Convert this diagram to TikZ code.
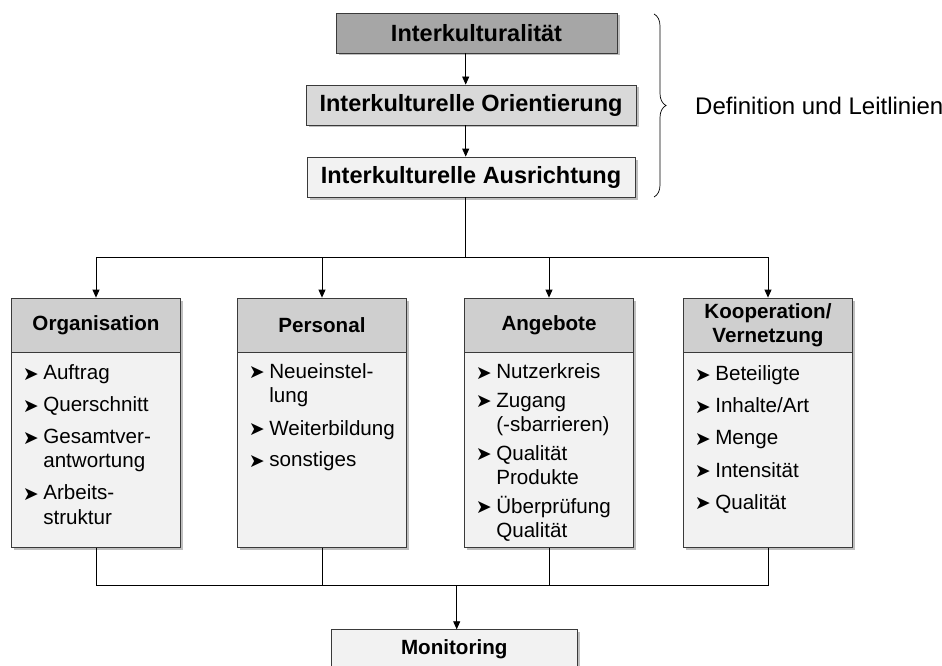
\documentclass[tikz,border=0pt]{standalone}
\usepackage{fontspec}
\setmainfont{Liberation Sans}
\newfontfamily\symfont{DejaVu Sans}
\usetikzlibrary{arrows.meta,shadows,decorations.pathreplacing,calc}

\definecolor{darkfill}{HTML}{A6A6A6}
\definecolor{midfill}{HTML}{D9D9D9}
\definecolor{headfill}{HTML}{CFCFCF}
\definecolor{lightfill}{HTML}{F2F2F2}
\definecolor{edgegray}{HTML}{3A3A3A}

% bullet and hanging indent for the lists
\newcommand{\bul}{\makebox[20.5pt][l]{\raisebox{-0.5pt}{\symfont\fontsize{19}{19}\selectfont ➤}}}
\newcommand{\cont}{\hspace*{20.5pt}}

\begin{document}
\begin{tikzpicture}[x=1pt,y=-1pt,
    box/.style={draw=edgegray, line width=0.8pt, inner sep=0pt,
        drop shadow={shadow xshift=2.5pt, shadow yshift=-2.5pt, opacity=0.25, fill=black}},
    topbox/.style={box, minimum height=40, font=\fontsize{23.5}{28}\selectfont\bfseries},
    colhead/.style={box, fill=headfill, minimum width=169, minimum height=54, align=center,
        font=\fontsize{20.6}{24.5}\selectfont\bfseries},
    colbody/.style={box, fill=lightfill, minimum width=169, minimum height=194.5, anchor=north},
    items/.style={inner sep=0pt, align=left, anchor=north west, font=\fontsize{20.6}{24.3}\selectfont},
    arr/.style={-{Triangle[length=8pt,width=7pt]}, line width=0.8pt},
    conn/.style={line width=0.8pt}]

    \useasboundingbox (0,0) rectangle (942,666);
    \clip (0,0) rectangle (942,666);

    % top chain
    \node[topbox, fill=darkfill, minimum width=281] (kultur) at (476.5,33) {Interkulturalität};
    \node[topbox, fill=midfill, minimum width=330] (orient) at (471,105) {Interkulturelle Orientierung};
    \node[topbox, fill=lightfill, minimum width=328] (ausr) at (471,177) {Interkulturelle Ausrichtung};

    \coordinate (trunk) at (465.7,257.3);
    \coordinate (mbus) at (456.7,585.7);

    \draw[arr] (kultur.south -| trunk) -- (orient.north -| trunk);
    \draw[arr] (orient.south -| trunk) -- (ausr.north -| trunk);

    % brace
    \draw[line width=0.7pt, decorate, decoration={brace, amplitude=12pt}] (654,14) -- (654,197);
    \node[anchor=west, inner sep=0pt, font=\fontsize{24}{29}\selectfont] (defn) at (695,106) {Definition und Leitlinien};

    % columns
    \node[colhead] (orgh) at (96,325) {Organisation};
    \node[colbody] (orgb) at (orgh.south) {};
    \node[items] (orgl) at ($(orgb.north west)+(11.5,12)$) {%
        \bul Auftrag\\[7.7pt]
        \bul Querschnitt\\[7.7pt]
        \bul Gesamtver-\\
        \cont antwortung\\[7.7pt]
        \bul Arbeits-\\
        \cont struktur};

    \node[colhead] (perh) at (322,325) {Personal};
    \node[colbody] (perb) at (perh.south) {};
    \node[items] (perl) at ($(perb.north west)+(11.5,10.5)$) {%
        \bul Neueinstel-\\
        \cont lung\\[8.5pt]
        \bul Weiterbildung\\[7.5pt]
        \bul sonstiges};

    \node[colhead] (angh) at (549,325) {Angebote};
    \node[colbody] (angb) at (angh.south) {};
    \node[items] (angl) at ($(angb.north west)+(11.5,11)$) {%
        \bul Nutzerkreis\\[4.4pt]
        \bul Zugang\\
        \cont (-sbarrieren)\\[4.4pt]
        \bul Qualität\\
        \cont Produkte\\[4.4pt]
        \bul Überprüfung\\
        \cont Qualität};

    \node[colhead] (kooph) at (768,325) {Kooperation/\\Vernetzung};
    \node[colbody] (koopb) at (kooph.south) {};
    \node[items] (koopl) at ($(koopb.north west)+(11.5,13)$) {%
        \bul Beteiligte\\[7.9pt]
        \bul Inhalte/Art\\[7.9pt]
        \bul Menge\\[7.9pt]
        \bul Intensität\\[7.9pt]
        \bul Qualität};

    % distribution
    \draw[conn] (ausr.south -| trunk) -- (trunk);
    \draw[arr] (trunk) -| (orgh.north);
    \draw[arr] (trunk) -| (perh.north);
    \draw[arr] (trunk) -| (angh.north);
    \draw[arr] (trunk) -| (kooph.north);

    % collection
    \draw[conn] (orgb.south) |- (mbus);
    \draw[conn] (perb.south) |- (mbus);
    \draw[conn] (angb.south) |- (mbus);
    \draw[conn] (koopb.south) |- (mbus);

    \node[box, fill=lightfill, minimum width=246, minimum height=40, anchor=north,
        font=\fontsize{20.6}{24}\selectfont\bfseries] (monitor) at (454.2,629.3) {Monitoring};
    \draw[arr] (mbus) -- (mbus |- monitor.north);
\end{tikzpicture}
\end{document}
